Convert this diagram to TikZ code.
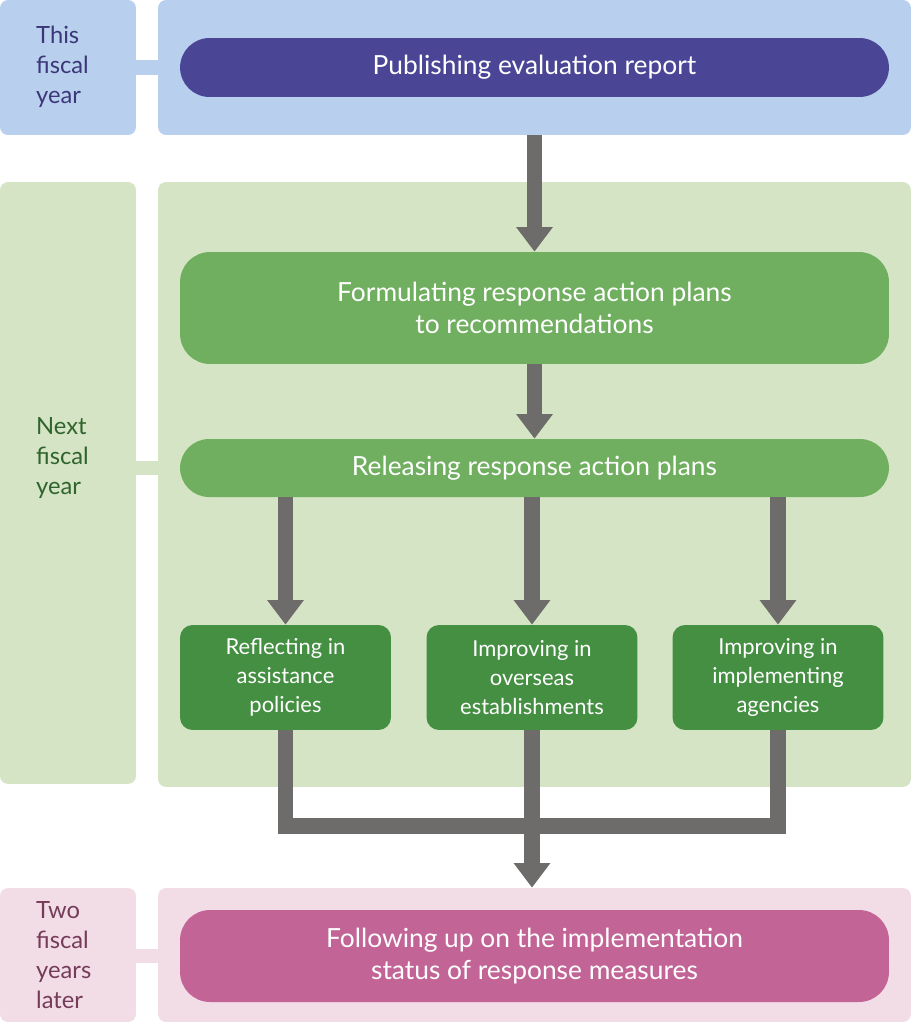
\documentclass[tikz,border=0pt]{standalone}
\usepackage{fontspec}
\setmainfont{Lato}
\usetikzlibrary{arrows.meta}
\definecolor{paleblue}{HTML}{B8D0EE}
\definecolor{palegreen}{HTML}{D4E4C4}
\definecolor{palepink}{HTML}{F2DCE6}
\definecolor{deepblue}{HTML}{4B4596}
\definecolor{midgreen}{HTML}{6FAF5F}
\definecolor{darkgreen}{HTML}{448F42}
\definecolor{rose}{HTML}{C36496}
\definecolor{arrowgray}{HTML}{6E6B6B}
\tikzset{
  panel/.style={rounded corners=0.16cm, inner sep=0pt},
  pill/.style={minimum width=14.18cm, text=white, font=\fontsize{15}{18}\selectfont, align=center, inner sep=0pt},
  action/.style={fill=darkgreen, rounded corners=0.25cm, minimum width=4.22cm, minimum height=2.1cm, text=white, font=\fontsize{12.5}{16.4}\selectfont, align=center, inner sep=0pt},
  side/.style={anchor=west, align=left, font=\fontsize{13.5}{17}\selectfont},
  flow/.style={draw=arrowgray, line width=9pt},
  tip/.style={-{Triangle[width=20pt,length=14pt]}},
  link/.style={line width=8pt}
}
\begin{document}
\begin{tikzpicture}[x=0.02cm, y=-0.02cm]
	\useasboundingbox (0,0) rectangle (913,1025);

	% left year labels and panels
	\node[panel, fill=paleblue, minimum width=2.72cm, minimum height=2.7cm] (lt) at (68,67.5) {};
	\node[panel, fill=palegreen, minimum width=2.72cm, minimum height=12.04cm] (lm) at (68,483) {};
	\node[panel, fill=palepink, minimum width=2.72cm, minimum height=2.68cm] (lb) at (68,955) {};
	\node[panel, fill=paleblue, minimum width=15.06cm, minimum height=2.7cm] (pt) at (534.5,67.5) {};
	\node[panel, fill=palegreen, minimum width=15.06cm, minimum height=12.1cm] (pm) at (534.5,484.5) {};
	\node[panel, fill=palepink, minimum width=15.06cm, minimum height=2.68cm] (pb) at (534.5,955) {};

	\node[side, text=deepblue!80!black] (tthis) at (30,67) {This\\fiscal\\year};
	\node[side, text=darkgreen!70!black] (tnext) at (30,458) {Next\\fiscal\\year};
	\node[side, text=rose!60!black] (ttwo) at (30,955) {Two\\fiscal\\years\\later};

	% boxes
	\node[pill, fill=deepblue, rounded corners=0.59cm, minimum height=1.18cm] (pub) at (534.5,67.5) {Publishing evaluation report};
	\node[pill, fill=midgreen, rounded corners=0.6cm, minimum height=2.24cm] (form) at (534.5,308) {Formulating response action plans\\to recommendations};
	\node[pill, fill=midgreen, rounded corners=0.58cm, minimum height=1.16cm] (rel) at (534.5,468) {Releasing response action plans};
	\node[action] (refl) at (285.5,677.5) {Reflecting in\\assistance\\policies};
	\node[action] (overs) at (532,677.5) {Improving in\\overseas\\establishments};
	\node[action] (agen) at (778,677.5) {Improving in\\implementing\\agencies};
	\node[pill, fill=rose, rounded corners=0.6cm, minimum height=1.84cm] (foll) at (534.5,956) {Following up on the implementation\\status of response measures};

	\draw[link, draw=paleblue] (lt.east) -- (pt.west);
	\draw[link, draw=palegreen] (lm.east |- rel) -- (pm.west |- rel);
	\draw[link, draw=palepink] (lb.east |- foll) -- (pb.west |- foll);

	% arrows
	\draw[flow, tip] (pt.south) -- (form.north);
	\draw[flow, tip] (form.south) -- (rel.north);
	\draw[flow, tip] (rel.south -| refl) -- (refl.north);
	\draw[flow, tip] (rel.south -| overs) -- (overs.north);
	\draw[flow, tip] (rel.south -| agen) -- (agen.north);
	\coordinate (join) at (285.5,826);
	\draw[flow] (refl.south) -- (join) -- (join -| agen) -- (agen.south);
	\draw[flow, tip] (overs.south) -- (overs.south |- pb.north);
\end{tikzpicture}
\end{document}
